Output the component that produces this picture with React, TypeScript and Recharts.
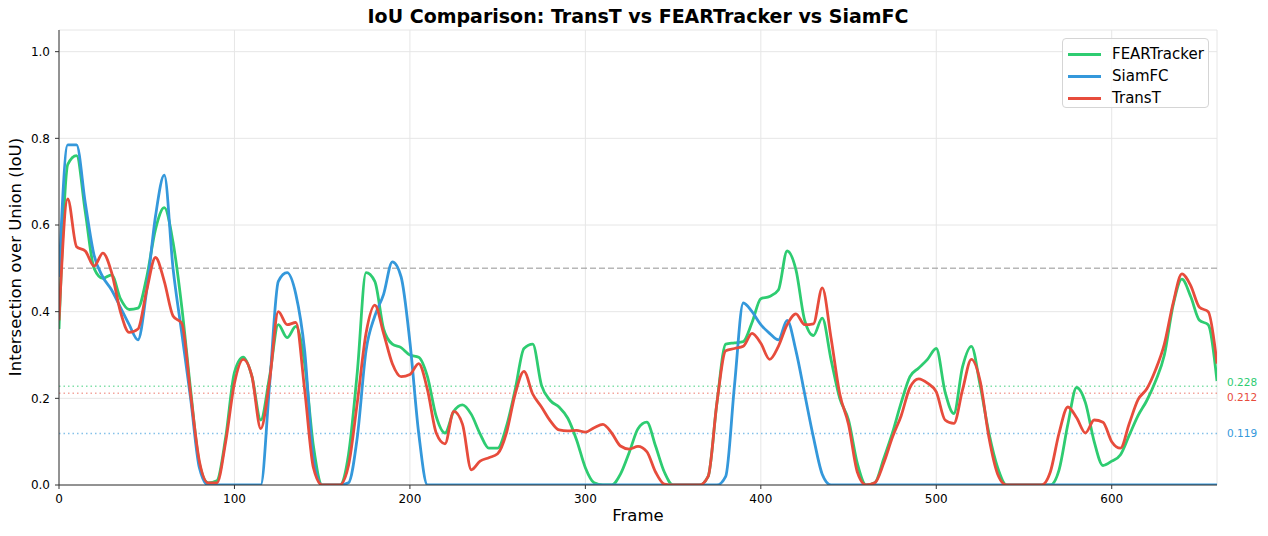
import React from 'react';
import {
	CartesianGrid,
	Line,
	LineChart,
	ReferenceLine,
	XAxis,
	YAxis,
} from 'recharts';

// frame index, sampled every 5 frames
const frames = Array.from({ length: 133 }, (_, i) => i * 5);

// smoothed IoU per tracker
const fearIoU = [
	0.36, 0.74, 0.76, 0.63, 0.5, 0.477, 0.485, 0.43, 0.405, 0.408,
	0.48, 0.59, 0.64, 0.56, 0.41, 0.22, 0.05, 0.005, 0.01, 0.11,
	0.26, 0.295, 0.25, 0.15, 0.25, 0.37, 0.34, 0.366, 0.28, 0.09,
	0, 0, 0, 0.07, 0.26, 0.49, 0.47, 0.36, 0.325, 0.317,
	0.3, 0.295, 0.25, 0.158, 0.12, 0.17, 0.185, 0.163, 0.118, 0.085,
	0.085, 0.135, 0.22, 0.315, 0.325, 0.23, 0.195, 0.18, 0.154, 0.104,
	0.04, 0.005, 0, 0, 0.025, 0.075, 0.13, 0.145, 0.09, 0.03,
	0, 0, 0, 0, 0.02, 0.19, 0.325, 0.328, 0.331, 0.375,
	0.43, 0.435, 0.45, 0.54, 0.497, 0.38, 0.345, 0.385, 0.29, 0.2,
	0.15, 0.05, 0, 0.005, 0.06, 0.12, 0.19, 0.25, 0.27, 0.29,
	0.315, 0.215, 0.165, 0.273, 0.32, 0.23, 0.12, 0.04, 0, 0,
	0, 0, 0, 0, 0.035, 0.14, 0.225, 0.19, 0.1, 0.045,
	0.055, 0.07, 0.115, 0.16, 0.195, 0.24, 0.3, 0.415, 0.475, 0.435,
	0.38, 0.37, 0.24,
];

const siamIoU = [
	0.48, 0.785, 0.785, 0.65, 0.53, 0.48, 0.45, 0.41, 0.37, 0.335,
	0.45, 0.62, 0.715, 0.5, 0.35, 0.2, 0.04, 0, 0, 0,
	0, 0, 0, 0, 0.23, 0.47, 0.49, 0.44, 0.31, 0.06,
	0, 0, 0, 0.005, 0.11, 0.31, 0.39, 0.44, 0.515, 0.48,
	0.33, 0.12, 0, 0, 0, 0, 0, 0, 0, 0,
	0, 0, 0, 0, 0, 0, 0, 0, 0, 0,
	0, 0, 0, 0, 0, 0, 0, 0, 0, 0,
	0, 0, 0, 0, 0, 0, 0.02, 0.23, 0.42, 0.4,
	0.37, 0.35, 0.335, 0.38, 0.31, 0.21, 0.11, 0.025, 0, 0,
	0, 0, 0, 0, 0, 0, 0, 0, 0, 0,
	0, 0, 0, 0, 0, 0, 0, 0, 0, 0,
	0, 0, 0, 0, 0, 0, 0, 0, 0, 0,
	0, 0, 0, 0, 0, 0, 0, 0, 0, 0,
	0, 0, 0,
];

const transIoU = [
	0.38, 0.66, 0.55, 0.54, 0.505, 0.535, 0.49, 0.4, 0.352, 0.36,
	0.45, 0.525, 0.47, 0.39, 0.373, 0.21, 0.055, 0.005, 0.005, 0.1,
	0.235, 0.29, 0.25, 0.13, 0.24, 0.4, 0.37, 0.375, 0.22, 0.04,
	0, 0, 0, 0.045, 0.19, 0.35, 0.415, 0.35, 0.28, 0.25,
	0.255, 0.28, 0.22, 0.12, 0.095, 0.17, 0.14, 0.035, 0.055, 0.063,
	0.072, 0.12, 0.21, 0.262, 0.21, 0.18, 0.148, 0.127, 0.125, 0.126,
	0.122, 0.132, 0.14, 0.12, 0.09, 0.083, 0.089, 0.077, 0.03, 0.002,
	0, 0, 0, 0, 0.02, 0.19, 0.31, 0.315, 0.32, 0.35,
	0.327, 0.29, 0.32, 0.37, 0.395, 0.37, 0.372, 0.455, 0.34, 0.21,
	0.14, 0.03, 0, 0.005, 0.05, 0.11, 0.16, 0.225, 0.245, 0.235,
	0.215, 0.15, 0.142, 0.22, 0.29, 0.24, 0.11, 0.025, 0, 0,
	0, 0, 0, 0.03, 0.12, 0.18, 0.155, 0.12, 0.15, 0.145,
	0.1, 0.085, 0.142, 0.197, 0.222, 0.266, 0.325, 0.42, 0.487, 0.46,
	0.41, 0.4, 0.28,
];

const fearMean = 0.228;
const transMean = 0.212;
const siamMean = 0.119;
const successThreshold = 0.5;

const xTicks = [0, 100, 200, 300, 400, 500, 600];
const yTicks = [0, 0.2, 0.4, 0.6, 0.8, 1.0];

const GREEN = '#2ecc71';
const BLUE = '#3498db';
const RED = '#e74c3c';
const FONT = '"DejaVu Sans", sans-serif';

const chartData = frames.map((frame, i) => ({
	frame,
	fear: fearIoU[i],
	siam: siamIoU[i],
	trans: transIoU[i],
}));

const legendItems = [
	{ name: 'FEARTracker', color: GREEN },
	{ name: 'SiamFC', color: BLUE },
	{ name: 'TransT', color: RED },
];

// the two upper means sit close together, so nudge their labels apart
const meanLabel = (value: string, color: string, dy = 0) => ({
	value,
	position: 'right' as const,
	offset: 10,
	dy,
	fill: color,
	fontSize: 10.5,
	fontFamily: FONT,
});

const tickStyle = { fill: '#000', fontSize: 12, fontFamily: FONT };

export default function App() {
	return (
		<div
			style={{
				position: 'absolute',
				left: 0,
				top: 0,
				width: 1268,
				height: 536,
				background: '#fff',
				fontFamily: FONT,
			}}
		>
			<div
				style={{
					position: 'absolute',
					left: 59,
					width: 1158,
					top: 4,
					textAlign: 'center',
					fontWeight: 'bold',
					fontSize: 19,
					lineHeight: '24px',
					color: '#000',
				}}
			>
				IoU Comparison: TransT vs FEARTracker vs SiamFC
			</div>

			<LineChart
				width={1268}
				height={536}
				data={chartData}
				margin={{ top: 30, right: 51, bottom: 21, left: 9 }}
			>
				<CartesianGrid stroke="#e6e6e6" strokeWidth={1} />
				<XAxis
					dataKey="frame"
					type="number"
					domain={[0, 660]}
					ticks={xTicks}
					height={30}
					tickSize={4}
					tickMargin={5}
					stroke="#333"
					tick={tickStyle}
					allowDataOverflow
				/>
				<XAxis
					xAxisId="top"
					orientation="top"
					dataKey="frame"
					type="number"
					domain={[0, 660]}
					height={0}
					tick={false}
					tickLine={false}
					stroke="#333"
				/>
				<YAxis
					type="number"
					domain={[0, 1.05]}
					ticks={yTicks}
					width={50}
					tickSize={4}
					tickMargin={5}
					stroke="#333"
					tickFormatter={(v: number) => v.toFixed(1)}
					tick={tickStyle}
					allowDataOverflow
				/>
				<YAxis
					yAxisId="right"
					orientation="right"
					type="number"
					domain={[0, 1.05]}
					width={0}
					tick={false}
					tickLine={false}
					stroke="#333"
				/>

				<ReferenceLine
					y={successThreshold}
					stroke="#999"
					strokeOpacity={0.7}
					strokeWidth={1.5}
					strokeDasharray="6 3"
				/>
				<ReferenceLine
					y={fearMean}
					stroke={GREEN}
					strokeOpacity={0.6}
					strokeWidth={1.5}
					strokeDasharray="1.5 3"
					label={meanLabel(fearMean.toFixed(3), GREEN, -4)}
				/>
				<ReferenceLine
					y={transMean}
					stroke={RED}
					strokeOpacity={0.5}
					strokeWidth={1.5}
					strokeDasharray="1.5 3"
					label={meanLabel(transMean.toFixed(3), RED, 4)}
				/>
				<ReferenceLine
					y={siamMean}
					stroke={BLUE}
					strokeOpacity={0.6}
					strokeWidth={1.5}
					strokeDasharray="1.5 3"
					label={meanLabel(siamMean.toFixed(3), BLUE)}
				/>

				<Line
					dataKey="fear"
					type="monotone"
					stroke={GREEN}
					strokeWidth={2.8}
					dot={false}
					isAnimationActive={false}
				/>
				<Line
					dataKey="siam"
					type="monotone"
					stroke={BLUE}
					strokeWidth={2.8}
					dot={false}
					isAnimationActive={false}
				/>
				<Line
					dataKey="trans"
					type="monotone"
					stroke={RED}
					strokeWidth={2.8}
					dot={false}
					isAnimationActive={false}
				/>
			</LineChart>

			<div
				style={{
					position: 'absolute',
					left: 638 - 100,
					width: 200,
					top: 506,
					textAlign: 'center',
					fontSize: 16.5,
					lineHeight: '20px',
					color: '#000',
				}}
			>
				Frame
			</div>
			<div
				style={{
					position: 'absolute',
					left: 16 - 150,
					width: 300,
					top: 257 - 10,
					textAlign: 'center',
					fontSize: 16.5,
					color: '#000',
					transform: 'rotate(-90deg)',
					lineHeight: '20px',
				}}
			>
				Intersection over Union (IoU)
			</div>

			<div
				style={{
					position: 'absolute',
					left: 1062,
					top: 38,
					width: 147,
					height: 70,
					boxSizing: 'border-box',
					border: '1px solid #d5d5d5',
					borderRadius: 4,
					background: 'rgba(255,255,255,0.85)',
					padding: '4px 0 0 5px',
				}}
			>
				{legendItems.map((item) => (
					<div
						key={item.name}
						style={{
							display: 'flex',
							alignItems: 'center',
							height: 22,
							fontSize: 15,
							color: '#000',
						}}
					>
						<span
							style={{
								display: 'inline-block',
								width: 33,
								height: 3,
								background: item.color,
								marginRight: 11,
							}}
						/>
						{item.name}
					</div>
				))}
			</div>
		</div>
	);
}
